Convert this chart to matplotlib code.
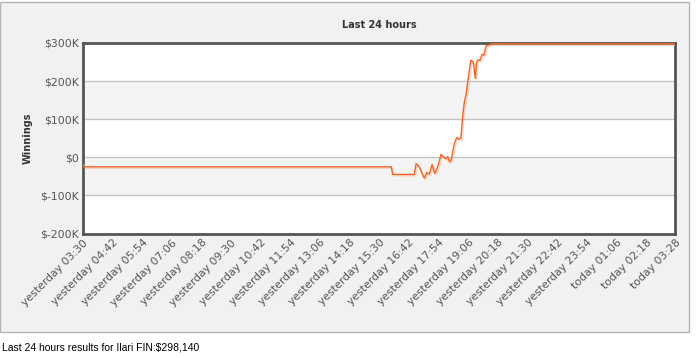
import matplotlib.pyplot as plt
import matplotlib.patheffects as pe
from matplotlib.patches import Rectangle
from matplotlib.ticker import FuncFormatter

# minutes since yesterday 03:30 and winnings in $K
minutes = [0, 2, 749, 752, 805, 809, 813, 817, 829, 835, 841, 848, 854, 858, 863,
           870, 875, 881, 886, 890, 894, 902, 908, 912, 918, 922, 926, 931, 936,
           942, 948, 953, 956, 960, 964, 969, 974, 979, 987, 994, 1438]
winnings = [-18, -25, -25, -45, -45, -17, -20, -26, -55, -40, -44, -19, -42, -35, -20,
            8, 2, -4, 2, -12, -8, 36, 52, 48, 50, 105, 142, 168, 210,
            255, 250, 207, 250, 256, 254, 270, 268, 292, 295, 298, 298]

tick_minutes = [0, 72, 144, 216, 288, 360, 432, 504, 576, 648, 720, 792, 864, 936,
                1008, 1080, 1152, 1224, 1296, 1368, 1438]
tick_labels = ["yesterday 03:30", "yesterday 04:42", "yesterday 05:54", "yesterday 07:06",
               "yesterday 08:18", "yesterday 09:30", "yesterday 10:42", "yesterday 11:54",
               "yesterday 13:06", "yesterday 14:18", "yesterday 15:30", "yesterday 16:42",
               "yesterday 17:54", "yesterday 19:06", "yesterday 20:18", "yesterday 21:30",
               "yesterday 22:42", "yesterday 23:54", "today 01:06", "today 02:18",
               "today 03:28"]
y_ticks = [-200, -100, 0, 100, 200, 300]

fig = plt.figure(figsize=(6.99, 3.58), dpi=100)
fig.patch.set_facecolor("white")

# grey outer panel
fig.patches.append(Rectangle((0.0, 1 - 331.5 / 358), 689 / 699, (331.5 - 2) / 358,
                             transform=fig.transFigure, facecolor="#f0f1f1",
                             edgecolor="#b5b5b5", linewidth=1.0, zorder=-1))

ax = fig.add_axes([83 / 699, 1 - 233.5 / 358, 592 / 699, 190.5 / 358])
ax.set_facecolor("white")

# alternating bands
for i in range(len(y_ticks) - 1):
    if i % 2 == 1:
        ax.axhspan(y_ticks[i], y_ticks[i + 1], color="#f4f4f4", zorder=0, lw=0)
for v in y_ticks[1:-1]:
    ax.axhline(v, color="#c4c4c4", lw=1, zorder=1)

ax.plot(minutes, winnings, color="#f0662a", lw=1.0, zorder=3,
        path_effects=[pe.SimpleLineShadow(offset=(1, -1), shadow_color="#f6b894", alpha=0.6),
                      pe.Normal()])

ax.set_xlim(0, 1438)
ax.set_ylim(-200, 300)
ax.set_yticks(y_ticks)
ax.yaxis.set_major_formatter(FuncFormatter(lambda v, p: "$0" if v == 0 else "$%dK" % v))
ax.set_xticks(tick_minutes)
ax.set_xticklabels(tick_labels, rotation=45, ha="right", va="top", rotation_mode="anchor")
ax.tick_params(axis="both", length=0, labelsize=7.8, labelcolor="#555555")
ax.tick_params(axis="x", pad=3)
ax.tick_params(axis="y", pad=3)

for s in ax.spines.values():
    s.set_color("#555555")
    s.set_linewidth(2)

ax.set_title("Last 24 hours", fontsize=7, fontweight="bold", color="#333333", pad=11)
ax.set_ylabel("Winnings", fontsize=7, fontweight="bold", color="#333333", labelpad=5)

fig.text(2 / 699, 1 - 347 / 358, "Last 24 hours results for Ilari FIN:$298,140",
         fontsize=7.5, family="Liberation Sans", color="black", va="center", ha="left")

fig.savefig("out.png", dpi=100)
